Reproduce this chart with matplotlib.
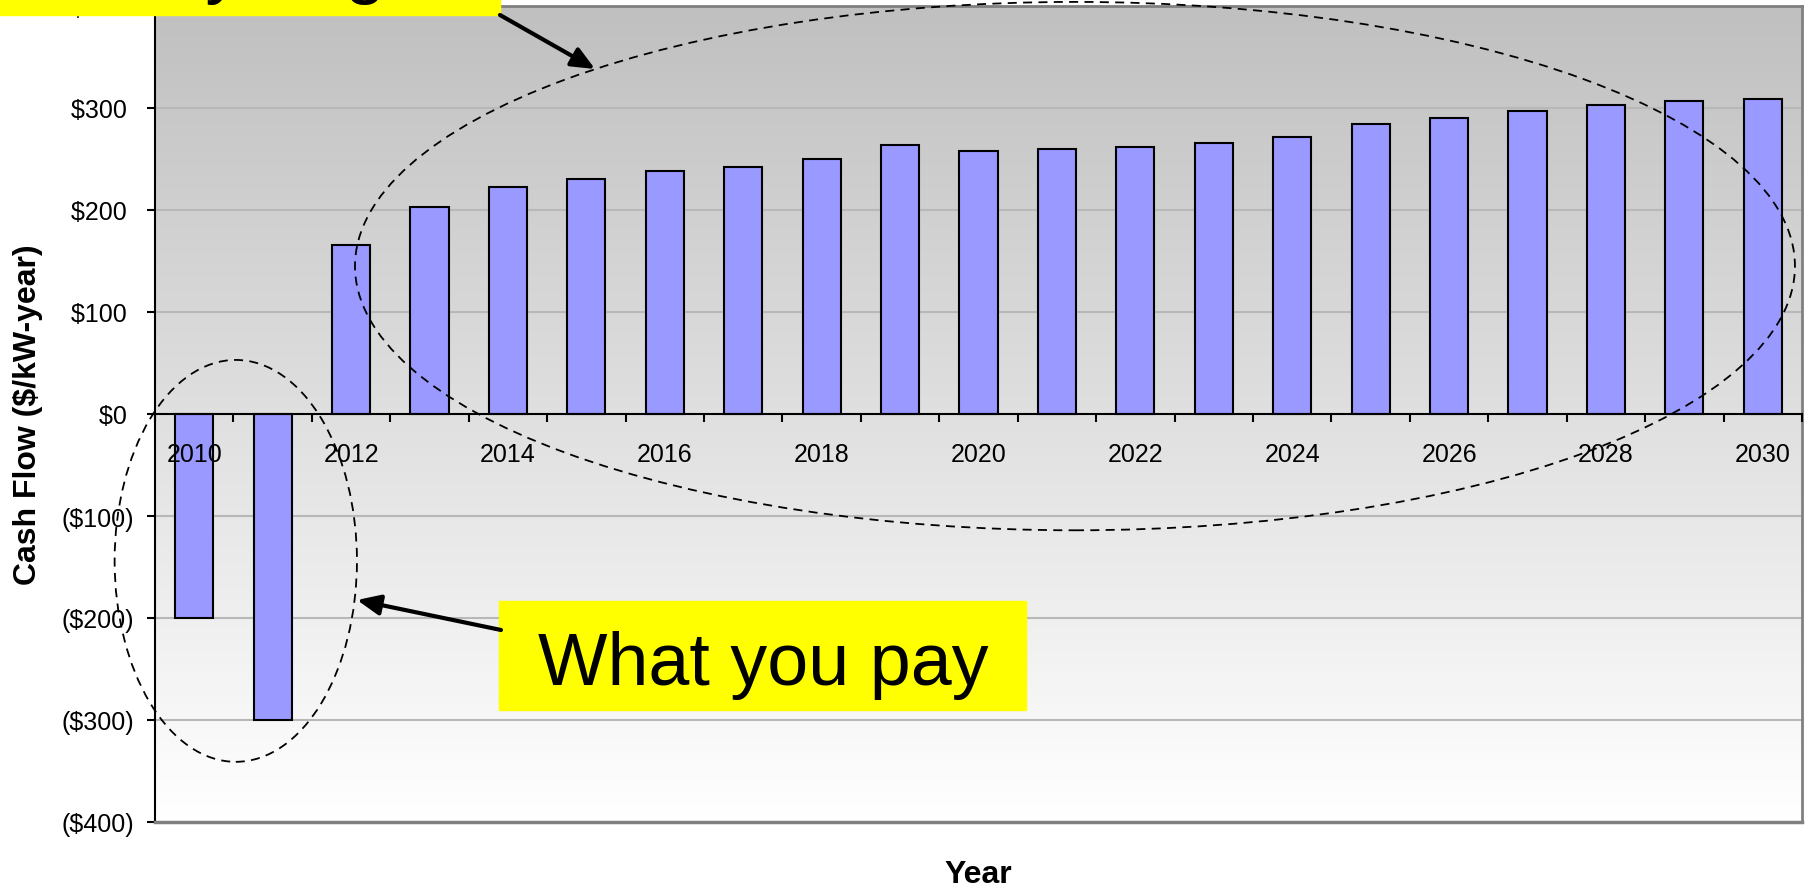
import numpy as np
import matplotlib
matplotlib.use("Agg")
import matplotlib.pyplot as plt
from matplotlib.colors import LinearSegmentedColormap
from matplotlib.patches import Ellipse, Rectangle, FancyArrowPatch
from matplotlib.ticker import FuncFormatter

plt.rcParams["font.family"] = ["Liberation Sans", "DejaVu Sans"]

# yearly cash flow, $/kW-year
years = list(range(2010, 2031))
cash_flow = [-200, -300, 166, 203, 223, 230, 238, 242, 250, 264, 258,
             260, 262, 266, 272, 284, 290, 297, 303, 307, 309]
year_labels = [str(y) for y in years[::2]]
y_ticks = list(range(-400, 401, 100))

W, H = 1806, 887


def fx(px):
    return px / W


def fy(py):
    return 1 - py / H


def money(v, _pos=None):
    if v < 0:
        return f"(${-v:,.0f})"
    return f"${v:,.0f} "


fig = plt.figure(figsize=(W / 100, H / 100), dpi=100)
ax = fig.add_axes([fx(155), fy(823), (1802 - 155) / W, (823 - 7) / H])

# grey-to-white plot background
grad = np.linspace(0, 1, 256).reshape(-1, 1)
cmap = LinearSegmentedColormap.from_list("bg", ["#c0c0c0", "#ffffff"])
ax.imshow(grad, extent=(0, 1, 0, 1), transform=ax.transAxes, aspect="auto",
          cmap=cmap, zorder=0, interpolation="bilinear")

x = np.arange(len(years))
ax.bar(x, cash_flow, width=0.485, color="#9999ff", edgecolor="black",
       linewidth=1.5, zorder=2)

ax.set_xlim(-0.5, len(years) - 0.5)
ax.set_ylim(-400, 400)

ax.set_yticks(y_ticks)
ax.yaxis.set_major_formatter(FuncFormatter(money))
ax.tick_params(axis="y", length=6, width=1.5, pad=9, labelsize=18)
for v in y_ticks[1:-1]:
    if v != 0:
        ax.axhline(v, color="#b8b8b8", lw=1.5, zorder=1)

# category boundaries get the tick marks, labels sit under every other bar
ax.set_xticks(np.arange(-0.5, len(years)), minor=False)
ax.set_xticklabels([])
ax.set_xticks(x[::2], minor=True)
ax.set_xticklabels(year_labels, minor=True)
ax.tick_params(axis="x", which="major", length=6, width=1.5, direction="out")
ax.tick_params(axis="x", which="minor", length=0, pad=20, labelsize=18)
ax.xaxis.set_zorder(4)

ax.spines["bottom"].set_position(("data", 0))
ax.spines["bottom"].set_linewidth(1.5)
ax.spines["bottom"].set_zorder(4)
ax.spines["left"].set_linewidth(1.5)
for side in ("top", "right"):
    ax.spines[side].set_color("#808080")
    ax.spines[side].set_linewidth(2)
ax.axhline(-400, color="#808080", lw=2.5, clip_on=False, zorder=4)

# dashed rings around the two groups of bars
dash = (0, (5, 3.5))
ax.add_patch(Ellipse((11.23, 145), 18.36, 518, fill=False, ls=dash,
                     lw=1.3, color="black", clip_on=False, zorder=5))
ax.add_patch(Ellipse((0.53, -144), 3.09, 394, fill=False, ls=dash,
                     lw=1.3, color="black", clip_on=False, zorder=5))

fig.text(fx(28), fy(415), "Cash Flow ($/kW-year)", rotation=90,
         ha="center", va="center", fontsize=23, fontweight="bold")
fig.text(fx(978), fy(883), "Year", ha="center", va="baseline",
         fontsize=23, fontweight="bold")

# callout boxes
fig.add_artist(Rectangle((fx(-28), fy(16)), 528 / W, 120 / H,
                         transform=fig.transFigure, color="#ffff00", zorder=6))
fig.text(fx(13), fy(-10), "What you get", ha="left", va="baseline",
         fontsize=53, zorder=7)

fig.add_artist(Rectangle((fx(499), fy(711)), 527 / W, 109 / H,
                         transform=fig.transFigure, color="#ffff00", zorder=6))
fig.text(fx(763), fy(685), "What you pay", ha="center", va="baseline",
         fontsize=53, zorder=7)

arrow_style = "-|>,head_length=0.5,head_width=0.22"
for tail, tip in [((500, 16), (595, 70)), ((501, 631), (357, 601))]:
    fig.add_artist(FancyArrowPatch((fx(tail[0]), fy(tail[1])),
                                   (fx(tip[0]), fy(tip[1])),
                                   transform=fig.transFigure,
                                   arrowstyle=arrow_style, mutation_scale=28,
                                   lw=3, color="black", shrinkA=0, shrinkB=0,
                                   zorder=6))

fig.savefig("out.png", dpi=100)
